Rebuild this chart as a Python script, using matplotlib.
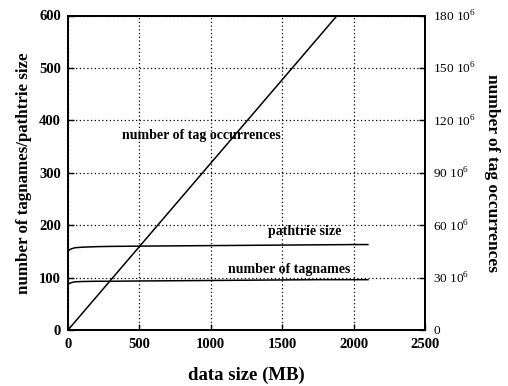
import matplotlib
matplotlib.use("Agg")
import matplotlib.pyplot as plt
import numpy as np

# data size (MB)
size_mb = [0, 10, 25, 50, 100, 200, 300, 500, 750, 1000, 1250, 1500, 1750, 2000, 2100]
pathtrie_size = [150, 153, 155, 157, 158, 159, 159.5, 160, 160.5, 161, 161.5, 162, 162.5, 163, 163]
tagnames = [87, 89, 90.5, 92, 92.5, 93, 93, 93.5, 94, 94.5, 95, 95.5, 96, 96, 96]
# number of tag occurrences (in 10^6)
occ_mb = [0, 500, 1000, 1500, 2000, 2100]
occurrences = [0, 47.75, 95.5, 143.25, 191, 200.5]

xticks = [0, 500, 1000, 1500, 2000, 2500]
yticks_left = [0, 100, 200, 300, 400, 500, 600]
yticks_right = [0, 30, 60, 90, 120, 150, 180]
right_labels = ["0"] + [f"{v} 10$^6$" for v in yticks_right[1:]]

plt.rcParams['font.family'] = ['Liberation Serif', 'DejaVu Serif']
plt.rcParams['mathtext.fontset'] = 'custom'
plt.rcParams['mathtext.rm'] = 'Liberation Serif'

fig = plt.figure(figsize=(5.08, 3.86), dpi=100)
ax = fig.add_axes([68/508, 1-330/386, (425-68)/508, (330-15.5)/386])
ax2 = ax.twinx()

ax.plot(size_mb, pathtrie_size, color='black', lw=1.1)
ax.plot(size_mb, tagnames, color='black', lw=1.1)
ax2.plot(occ_mb, occurrences, color='black', lw=1.1)

ax.set_xlim(0, 2500)
ax.set_ylim(0, 600)
ax2.set_ylim(0, 180)
ax.set_xticks(xticks)
ax.set_yticks(yticks_left)
ax2.set_yticks(yticks_right)
ax2.set_yticklabels(right_labels)

ax.grid(True, linestyle=(0, (1, 2)), color='black', lw=0.9)
for a in (ax, ax2):
    for s in a.spines.values():
        s.set_linewidth(1.3)
ax.tick_params(direction='in', length=4, width=1, labelsize=10.5)
ax2.tick_params(direction='in', length=4, width=1, labelsize=9.5, pad=6)
for lab in ax.get_xticklabels() + ax.get_yticklabels():
    lab.set_fontweight('bold')
ax.tick_params(axis='x', pad=6)
ax.tick_params(axis='y', pad=5)

ax.set_xlabel("data size (MB)", fontsize=13.5, fontweight='bold', labelpad=11)
ax.set_ylabel("number of tagnames/pathtrie size", fontsize=12.2, fontweight='bold', labelpad=5)
ax2.set_ylabel("number of tag occurrences", fontsize=12.5, fontweight='bold', rotation=-90, labelpad=17)

ax.text(935, 372, "number of tag occurrences", ha='center', va='center', fontsize=10, fontweight='bold')
ax.text(1660, 188, "pathtrie size", ha='center', va='center', fontsize=10, fontweight='bold')
ax.text(1548, 116, "number of tagnames", ha='center', va='center', fontsize=10, fontweight='bold')

fig.savefig("out.png", dpi=100)
